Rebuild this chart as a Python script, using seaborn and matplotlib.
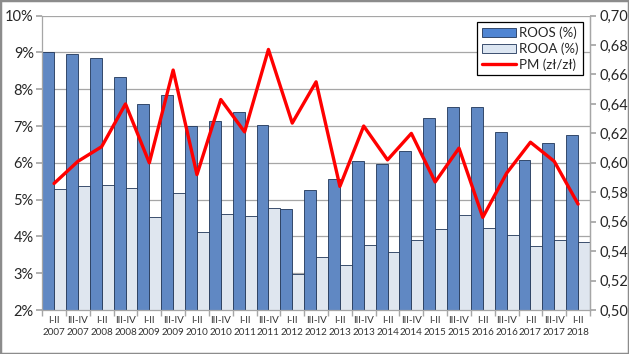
"""Recreates the ROOS / ROOA bar chart with the PM line on a second axis."""
import matplotlib
matplotlib.use("Agg")
import matplotlib.pyplot as plt
import matplotlib.ticker as tck
from matplotlib.patches import Rectangle, Patch
from matplotlib.lines import Line2D
import numpy as np
import pandas as pd
import seaborn as sns

periods = ["I-II", "III-IV"] * 11 + ["I-II"]
years = [str(y) for y in range(2007, 2018) for _ in range(2)] + ["2018"]
labels = [f"{p}\n{y}" for p, y in zip(periods, years)]

roos = [9.02, 8.95, 8.85, 8.34, 7.59, 7.83, 7.01, 7.13, 7.38, 7.02, 4.74, 5.26,
        5.56, 6.05, 5.98, 6.31, 7.21, 7.51, 7.53, 6.84, 6.09, 6.54, 6.75]
rooa = [5.29, 5.36, 5.41, 5.33, 4.53, 5.19, 4.13, 4.60, 4.56, 4.76, 2.97, 3.43,
        3.23, 3.77, 3.59, 3.90, 4.21, 4.57, 4.22, 4.05, 3.73, 3.91, 3.84]
pm = [0.586, 0.601, 0.611, 0.640, 0.600, 0.663, 0.592, 0.643, 0.621, 0.677,
      0.627, 0.655, 0.584, 0.625, 0.602, 0.620, 0.587, 0.610, 0.563, 0.593,
      0.614, 0.601, 0.572]

dark_blue = "#4F85D3"
light_blue = "#DCE6F2"
edge = "#1F3558"


def main():
    data = pd.DataFrame({
        "period": labels * 2,
        "value": roos + rooa,
        "series": ["ROOS (%)"] * len(labels) + ["ROOA (%)"] * len(labels),
    })

    sns.set_theme(style="white")
    plt.rcParams["font.family"] = ["Lato", "DejaVu Sans"]

    fig, ax = plt.subplots(figsize=(6.29, 3.54), dpi=100)
    fig.subplots_adjust(left=0.067, right=0.938, top=0.956, bottom=0.124)

    sns.barplot(data=data, x="period", y="value", hue="series", order=labels,
                palette=[dark_blue, light_blue], width=1.0, gap=0,
                edgecolor=edge, linewidth=0.6, legend=False, ax=ax, zorder=2)

    ax.set_ylim(2, 10)
    ax.set_xlim(-0.5, len(labels) - 0.5)
    ax.yaxis.set_major_locator(tck.MultipleLocator(1))
    ax.yaxis.set_major_formatter(tck.FuncFormatter(lambda v, _: f"{v:.0f}%"))
    ax.yaxis.grid(True, color="#A6A6A6", linewidth=0.9)
    ax.set_axisbelow(True)
    ax.set_xlabel("")
    ax.set_ylabel("")
    ax.tick_params(axis="y", labelsize=10.5, length=4, color="#A6A6A6",
                   left=True, pad=2)
    ax.tick_params(axis="x", labelsize=7.1, length=0, pad=4, colors="#333333")
    ax.set_xticks(np.arange(len(labels)))
    ax.set_xticklabels(labels, linespacing=1.5)
    ax.xaxis.set_minor_locator(tck.FixedLocator(np.arange(len(labels) + 1) - 0.5))
    ax.tick_params(axis="x", which="minor", bottom=True, length=4,
                   color="#A6A6A6")
    ax.spines["top"].set_visible(False)
    for side in ["left", "right", "bottom"]:
        ax.spines[side].set_color("#A6A6A6")
        ax.spines[side].set_linewidth(0.9)

    ax2 = ax.twinx()
    sns.lineplot(x=np.arange(len(labels)), y=pm, color="#FF0000",
                 linewidth=2.4, ax=ax2, zorder=3)
    ax2.set_ylim(0.50, 0.70)
    ax2.yaxis.set_major_locator(tck.MultipleLocator(0.02))
    ax2.yaxis.set_major_formatter(
        tck.FuncFormatter(lambda v, _: f"{v:.2f}".replace(".", ",")))
    ax2.tick_params(axis="y", labelsize=10.5, length=4, color="#A6A6A6",
                    right=True, pad=3)
    ax2.grid(False)
    for side in ["top", "left", "bottom"]:
        ax2.spines[side].set_visible(False)
    ax2.spines["right"].set_color("#A6A6A6")
    ax2.spines["right"].set_linewidth(0.9)

    handles = [
        Patch(facecolor=dark_blue, edgecolor=edge, linewidth=0.6, label="ROOS (%)"),
        Patch(facecolor=light_blue, edgecolor=edge, linewidth=0.6, label="ROOA (%)"),
        Line2D([0], [0], color="#FF0000", linewidth=2.4, label="PM (zł/zł)"),
    ]
    leg = ax2.legend(handles=handles, loc="upper right",
                     bbox_to_anchor=(0.987, 0.979), fontsize=9.5, frameon=True,
                     fancybox=False, edgecolor="black", framealpha=1,
                     borderpad=0.35, labelspacing=0.25, handlelength=2.6,
                     handleheight=0.7, handletextpad=0.2, borderaxespad=0)
    leg.get_frame().set_linewidth(0.9)

    fig.patches.append(Rectangle((0, 0), 1, 1, transform=fig.transFigure,
                                 fill=False, edgecolor="#8C8C8C", linewidth=2.5))
    fig.savefig("out.png", dpi=100)
    plt.close(fig)


if __name__ == "__main__":
    main()
